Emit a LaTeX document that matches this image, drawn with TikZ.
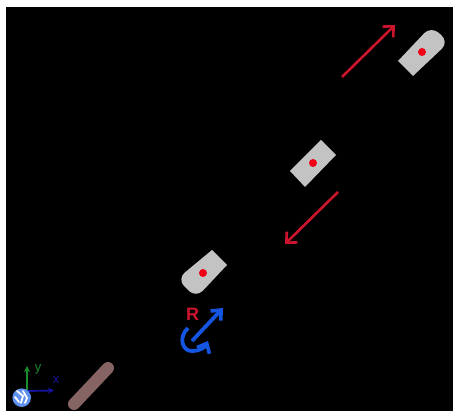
\documentclass[tikz,border=0pt]{standalone}
\usepackage{fontspec}
\setmainfont{Liberation Sans}
\usetikzlibrary{arrows.meta}
\definecolor{arrowred}{RGB}{205,20,45}
\definecolor{dotred}{RGB}{240,0,20}
\definecolor{partgray}{RGB}{195,195,195}
\definecolor{rotblue}{RGB}{20,85,225}
\definecolor{barbrown}{RGB}{135,100,100}
\definecolor{axisgreen}{RGB}{25,140,45}
\definecolor{axisblue}{RGB}{20,20,160}
\definecolor{globeblue}{RGB}{95,145,240}
\tikzset{
  x=1pt,y=-1pt,
  part/.style={fill=partgray},
  centerdot/.style={circle,fill=dotred,inner sep=0pt,minimum size=8pt},
  motion/.style={draw=arrowred,line width=2.6pt,-{Straight Barb[length=8pt,width=15pt,line width=2.6pt]}},
  rotation/.style={draw=rotblue,line width=3.8pt,-{Straight Barb[length=8pt,width=14pt,line width=3.6pt]}},
  axis/.style={line width=1.8pt,-{Stealth[length=6pt,width=6pt]}},
  axislabel/.style={inner sep=0pt,font=\fontsize{13}{13}\selectfont}
}
\begin{document}
\begin{tikzpicture}
\useasboundingbox (0,0) rectangle (453,411);
\fill[white] (0,0) rectangle (453,411);
\fill[black] (6,7) rectangle (453,411);
% parts
\fill[part] (212,250) -- (227,265) [rounded corners=10pt] -- (196,298) -- (177,279) [sharp corners] -- cycle;
\fill[part] (321,140) -- (336,155) -- (305,187) -- (290,171) -- cycle;
\fill[part] (398,61) -- (413,76) [rounded corners=10pt] -- (449,42) -- (431,26) [sharp corners] -- cycle;
\node[centerdot] (d1) at (203,273) {};
\node[centerdot] (d2) at (313,163) {};
\node[centerdot] (d3) at (422,52) {};
% motion arrows
\coordinate (m1a) at (342,77);
\coordinate (m1b) at (395,25);
\coordinate (m2a) at (338,192);
\coordinate (m2b) at (285,244);
\draw[motion] (m1a) -- (m1b);
\draw[motion] (m2a) -- (m2b);
% rotation symbol
\coordinate (r1a) at (192,341);
\coordinate (r1b) at (223,308);
\draw[rotation] (r1a) -- (r1b);
\draw[rotation] (188,328) .. controls (178,337) and (182,352) .. (193,351) .. controls (200,351) and (205,347) .. (208,341);
\node[text=arrowred,inner sep=0pt,font=\fontsize{18}{18}\selectfont\bfseries] (R) at (192.5,314) {R};
% bar
\coordinate (b1) at (74,404);
\coordinate (b2) at (108,368);
\draw[barbrown,line width=12pt,line cap=round] (b1) -- (b2);
% axes
\coordinate (o) at (27,391);
\coordinate (ya) at (27,366);
\coordinate (xa) at (54,390.5);
\draw[axis,axisgreen] (o) -- (ya);
\draw[axis,axisblue] (o) -- (xa);
\node[axislabel,text=axisgreen] (ylab) at (38,369) {y};
\node[axislabel,text=axisblue] (xlab) at (56,380) {x};
% globe
\fill[globeblue] (21.7,397.7) circle (9.3pt);
\draw[white,line width=1.8pt,line cap=round] (17,391) -- (23,396) -- (21,403) (23,391) -- (27,398) -- (25,403) (15,397) -- (19,402);
\end{tikzpicture}
\end{document}
